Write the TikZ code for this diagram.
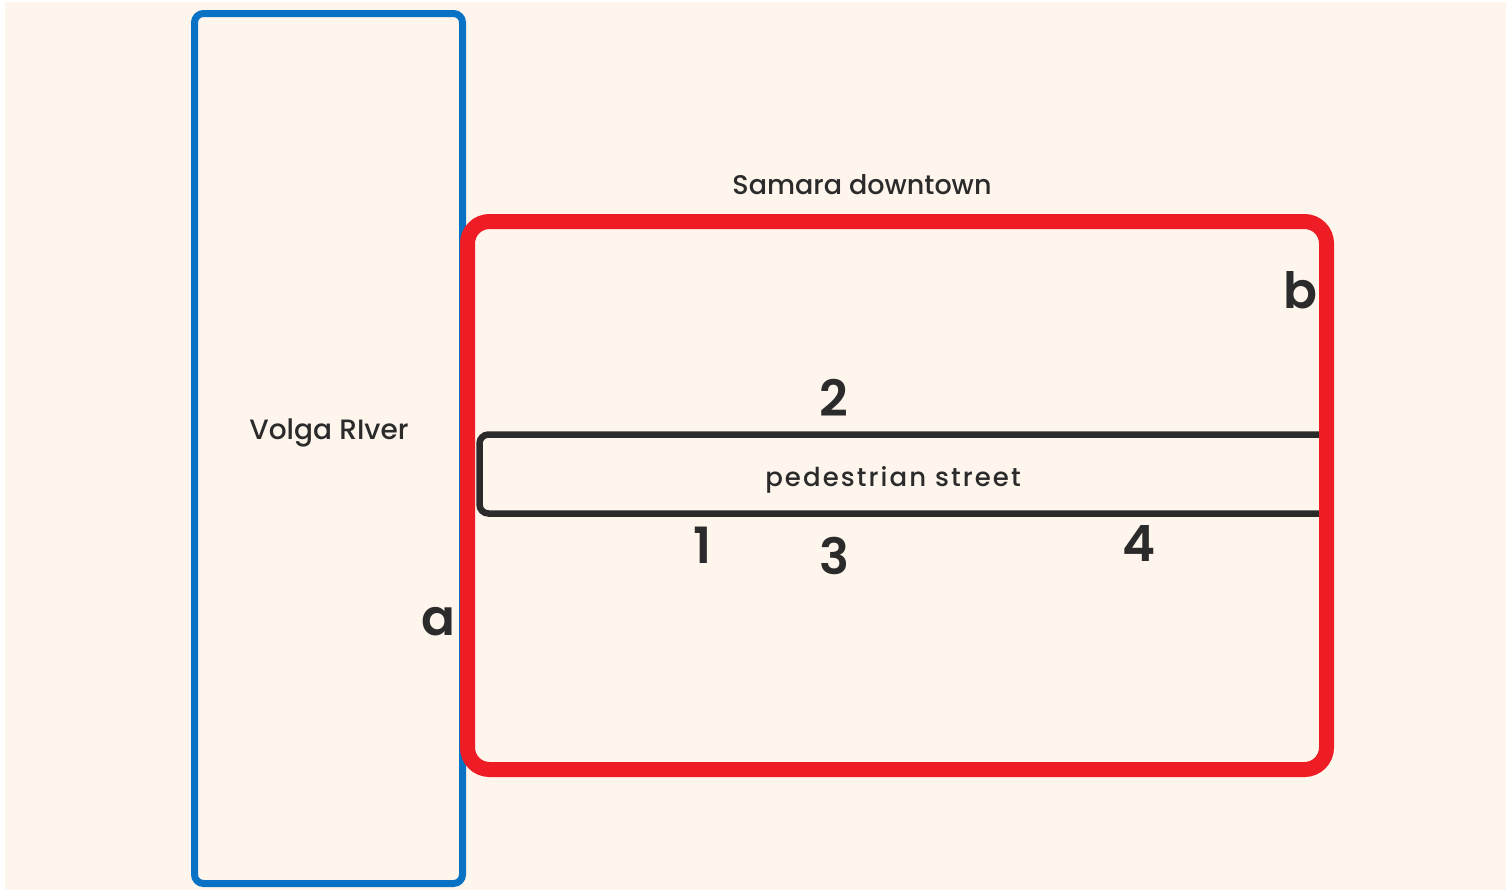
\documentclass[tikz,border=0pt]{standalone}
\usepackage{fontspec}
\setmainfont{Poppins}[UprightFont=* Medium,BoldFont=* SemiBold]
\definecolor{paper}{HTML}{FEF5EC}
\definecolor{river}{HTML}{0A72C4}
\definecolor{town}{HTML}{EE1C25}
\definecolor{ink}{HTML}{2B2B2B}
\begin{document}
\begin{tikzpicture}[x=1pt,y=-1pt,
  label/.style={text=ink,inner sep=0pt,font=\fontsize{27}{32}\selectfont},
  digit/.style={text=ink,inner sep=0pt,font=\fontsize{50}{56}\selectfont\bfseries}]
  % canvas
  \useasboundingbox (0,0) rectangle (1506,892);
  \fill[white] (0,0) rectangle (1506,892);
  \fill[paper] (5,2) rectangle (1506,890);
  % Volga river
  \draw[river,line width=7pt,rounded corners=9pt] (194.5,13.5) rectangle (462.5,883.5);
  % pedestrian street (open towards the east)
  \draw[ink,line width=6.5pt,rounded corners=9pt] (1326,434.5) -- (479.5,434.5) -- (479.5,513.5) -- (1326,513.5);
  % downtown
  \draw[town,line width=15pt,rounded corners=22pt] (467.5,221.5) rectangle (1326.5,769.5);
  % labels
  \node[label] (downtown) at (862,185) {Samara downtown};
  \node[label,font=\fontsize{28}{32}\selectfont] (volga) at (329,433) {Volga RIver};
  \node[label,font=\fontsize{26}{30}\selectfont] (street) at (893,480) {\addfontfeature{LetterSpace=8}pedestrian street};
  \node[digit] (n2) at (834,398) {2};
  \node[digit] (n1) at (703,545) {1};
  \node[digit] (n3) at (834,556) {3};
  \node[digit] (n4) at (1139,543) {4};
  \node[digit] (a) at (438,622) {a};
  \node[digit] (b) at (1300,290) {b};
\end{tikzpicture}
\end{document}
